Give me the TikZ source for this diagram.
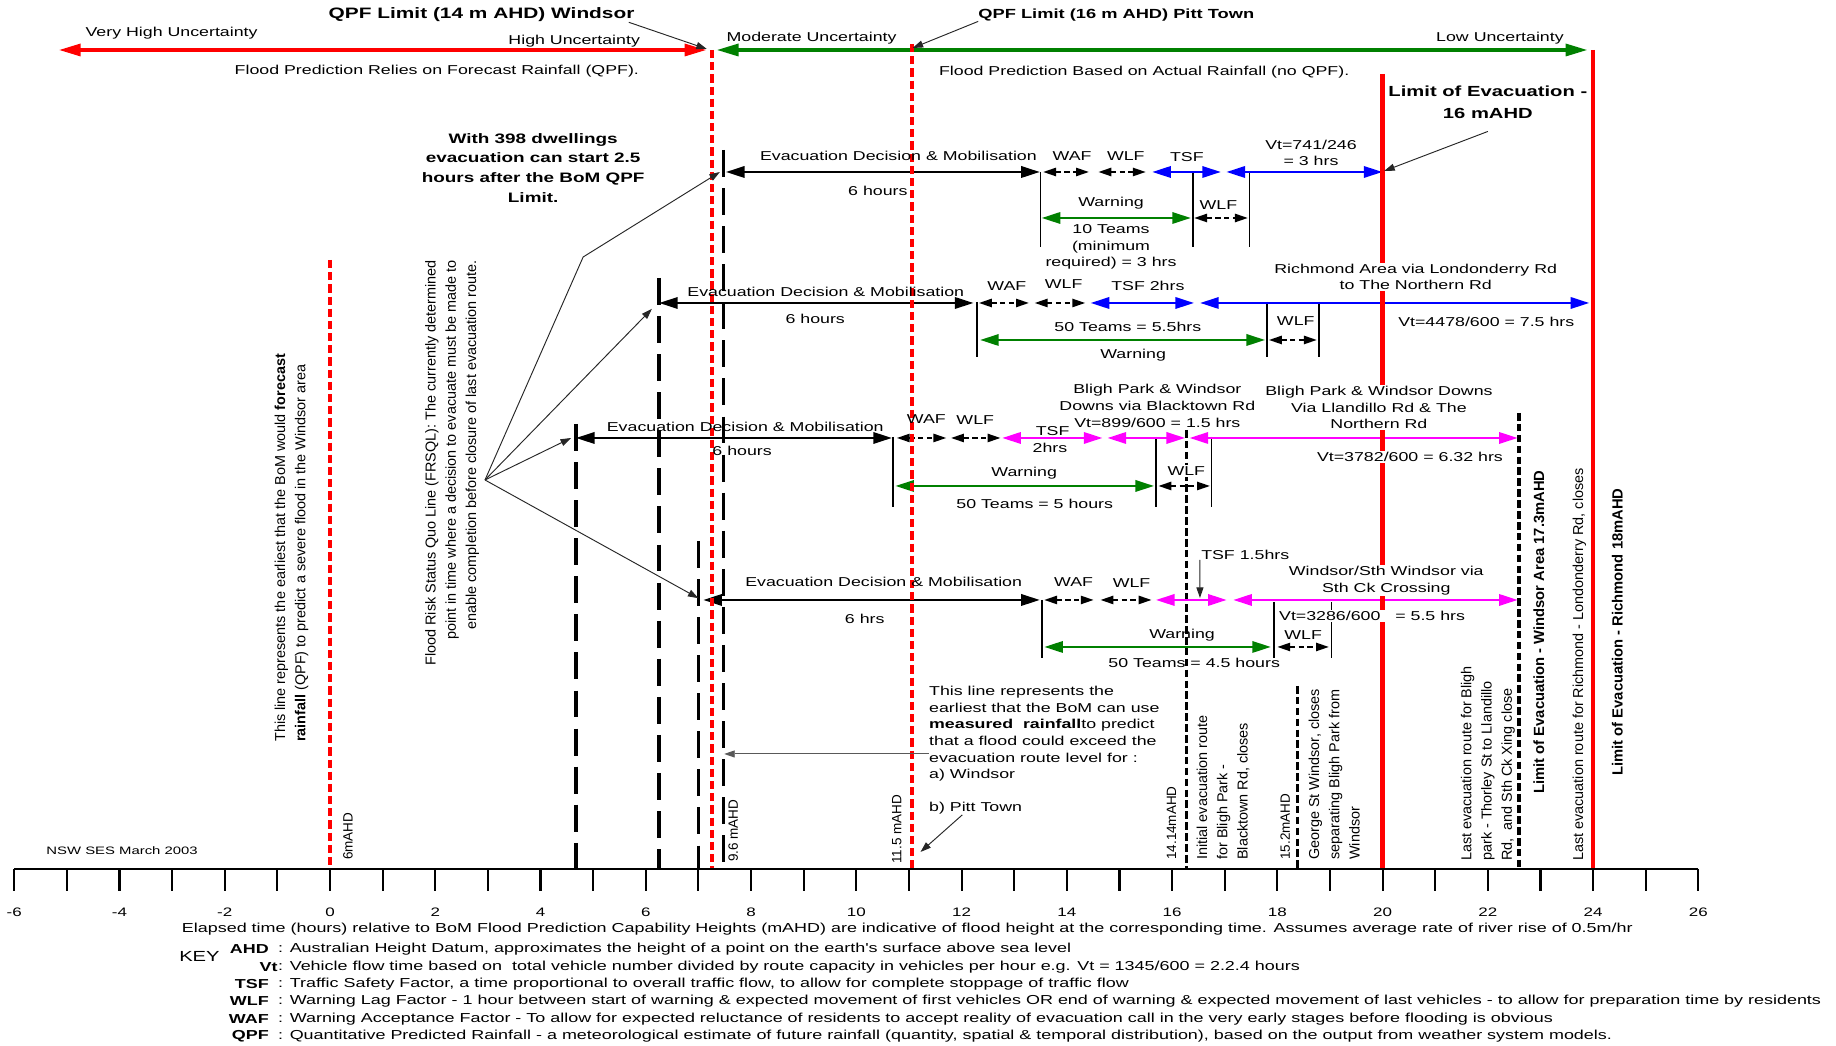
\documentclass[tikz,border=0pt]{standalone}
\usepackage{fontspec}
\setmainfont{Liberation Sans}
\newfontfamily\widefont{Liberation Sans}[FakeStretch=1.38]
\usetikzlibrary{arrows.meta}

\definecolor{floodred}{RGB}{255,0,0}
\definecolor{warngreen}{RGB}{0,128,0}
\definecolor{routeblue}{RGB}{0,0,255}
\definecolor{routepink}{RGB}{255,0,255}

\tikzset{
  lbl/.style={font=\widefont\fontsize{11}{14.2}\selectfont, inner sep=0pt, align=center},
  boldlbl/.style={font=\widefont\fontsize{11.7}{17}\selectfont\bfseries, inner sep=0pt, align=center},
  keytxt/.style={font=\widefont\fontsize{11.1}{13}\selectfont, inner sep=0pt, anchor=west},
  keyab/.style={font=\widefont\fontsize{11.1}{13}\selectfont\bfseries, inner sep=0pt, anchor=east},
  vlbl/.style={font=\fontsize{12.3}{17.3}\selectfont, inner sep=0pt, rotate=90, anchor=west, align=left},
  vsmall/.style={font=\fontsize{11.5}{14}\selectfont, inner sep=0pt, rotate=90, anchor=west},
  vbold/.style={font=\fontsize{12.6}{15}\selectfont\bfseries, inner sep=0pt, rotate=90},
  cover/.style={fill=white, inner sep=1pt},
  bigarrow/.style={line width=3.4pt, {Triangle[length=19pt,width=10pt]}-{Triangle[length=19pt,width=10pt]}},
  span/.style={line width=2.4pt, {Triangle[length=16pt,width=9.5pt]}-{Triangle[length=16pt,width=9.5pt]}},
  lag/.style={line width=1.6pt, dash pattern=on 4.5pt off 3pt, {Triangle[length=11pt,width=7pt]}-{Triangle[length=11pt,width=7pt]}},
  stopper/.style={line width=1.6pt},
  qpfline/.style={floodred, line width=3.4pt, dash pattern=on 7pt off 3.4pt},
  statusline/.style={line width=3pt, dash pattern=on 23pt off 9.5pt},
  closeline/.style={line width=2.8pt, dash pattern=on 6.5pt off 2.8pt},
  limitline/.style={floodred, line width=3.6pt},
  pointer/.style={black!85, line width=0.8pt, -{Triangle[length=9pt,width=6pt]}},
}

\begin{document}
\begin{tikzpicture}[x=1.5789cm, y=-0.03cm]
\useasboundingbox[fill=white] (-6.2703,0) rectangle (28.615,1046);

% decision and closure lines
\draw[statusline] (4.67,424) -- (4.67,869);
\draw[statusline] (6.25,278) -- (6.25,869);
\draw[statusline] (7.0,541) -- (7.0,869);
\draw[statusline] (7.48,150) -- (7.48,869);
\draw[closeline] (16.28,430) -- (16.28,869);
\draw[closeline] (18.38,686) -- (18.38,869);
\draw[closeline] (22.59,413) -- (22.59,869);

% row 1
\coordinate (ev1) at (7.52,172);
\draw[span] (ev1) -- (13.49,172);
\foreach \hr in {13.5,16.4,17.47} \draw[stopper] (\hr,172) -- (\hr,247);
\draw[lag] (13.55,172) -- (14.42,172);
\draw[lag] (14.6,172) -- (15.5,172);
\draw[span, routeblue] (15.62,172) -- (16.93,172);
\draw[span, routeblue] (17.03,172) -- (20,172);
\draw[span, warngreen] (13.52,218) -- (16.36,218);
\draw[lag] (16.42,218) -- (17.44,218);

% row 2
\coordinate (ev2) at (6.25,303);
\draw[span] (ev2) -- (12.23,303);
\foreach \hr in {12.29,17.8,18.79} \draw[stopper] (\hr,302) -- (\hr,357);
\draw[lag] (12.33,303) -- (13.28,303);
\draw[lag] (13.39,303) -- (14.35,303);
\draw[span, routeblue] (14.45,303) -- (16.42,303);
\draw[span, routeblue] (16.53,303) -- (23.93,303);
\draw[span, warngreen] (12.35,340) -- (17.77,340);
\draw[lag] (17.84,340) -- (18.75,340);

% row 3
\coordinate (ev3) at (4.67,438);
\draw[span] (ev3) -- (10.68,438);
\foreach \hr in {10.7,15.7,16.75} \draw[stopper] (\hr,437) -- (\hr,507);
\draw[lag] (10.77,438) -- (11.71,438);
\draw[lag] (11.8,438) -- (12.74,438);
\draw[span, routepink] (12.77,438) -- (14.68,438);
\draw[span, routepink] (14.77,438) -- (16.25,438);
\draw[span, routepink] (16.33,438) -- (22.57,438);
\draw[span, warngreen] (10.74,486) -- (15.66,486);
\draw[lag] (15.74,486) -- (16.72,486);

% row 4
\coordinate (ev4) at (7.09,600);
\draw[span] (ev4) -- (13.49,600);
\draw[stopper] (13.53,600) -- (13.53,658);
\foreach \hr in {17.93,19.03} \draw[stopper] (\hr,602) -- (\hr,658);
\draw[lag] (13.57,600) -- (14.51,600);
\draw[lag] (14.64,600) -- (15.61,600);
\draw[span, routepink] (15.69,600) -- (17.04,600);
\draw[span, routepink] (17.16,600) -- (22.57,600);
\draw[span, warngreen] (13.57,647) -- (17.88,647);
\draw[lag] (18.0,647) -- (18.98,647);

% uncertainty
\draw[bigarrow, floodred] (-5.16,50) -- (7.16,50);
\draw[bigarrow, warngreen] (7.34,50) -- (23.9,50);

% flood heights
\draw[qpfline] (0,260) -- (0,869);
\draw[qpfline] (7.25,50) -- (7.25,869);
\draw[qpfline] (11.05,44) -- (11.05,869);
\draw[limitline] (20,74) -- (20,869);
\draw[limitline] (24,50) -- (24,869);

% axis
\draw[line width=2.3pt] (-6,869) -- (26,869);
\foreach \hr in {-6,...,26} \draw[line width=1.8pt] (\hr,869) -- (\hr,891);
\foreach \hr [count=\i] in {-6,-4,...,26} \node[lbl, font=\widefont\fontsize{10.5}{12}\selectfont] (num\i) at (\hr,912) {\hr};
\node[keytxt, anchor=center] (caption) at (10.97,929) {Elapsed time (hours) relative to BoM Flood Prediction Capability Heights (mAHD) are indicative of flood height at the corresponding time. Assumes average rate of river rise of 0.5m/hr};

% top labels
\node[lbl] (vhu) at (-3.01,33) {Very High Uncertainty};
\node[lbl] (hu) at (4.64,41) {High Uncertainty};
\node[lbl] (mu) at (9.15,38) {Moderate Uncertainty};
\node[lbl] (lu) at (22.23,38) {Low Uncertainty};
\node[lbl] (fpr) at (2.03,71) {Flood Prediction Relies on Forecast Rainfall (QPF).};
\node[lbl] (fpb) at (15.47,72) {Flood Prediction Based on Actual Rainfall (no QPF).};
\node[boldlbl, font=\widefont\fontsize{12.9}{15}\selectfont\bfseries] (qpf14) at (2.88,15) {QPF Limit (14 m AHD) Windsor};
\node[boldlbl, font=\widefont\fontsize{11.3}{15}\selectfont\bfseries] (qpf16) at (14.94,15) {QPF Limit (16 m AHD) Pitt Town};
\coordinate (qpfw) at (7.16,49);
\coordinate (qpfp) at (11.07,48);
\draw[pointer] ([xshift=-5pt]qpf14.south east) -- (qpfw);
\draw[pointer] (qpf16.south west) -- (qpfp);
\node[boldlbl, font=\widefont\fontsize{12.5}{18.7}\selectfont\bfseries] (lim16) at (22.0,102) {Limit of Evacuation -\\16 mAHD};
\coordinate (vt1end) at (20.03,171);
\draw[pointer] ([yshift=-11pt]lim16.south) -- (vt1end);
\node[boldlbl] (dwell) at (3.86,168) {With 398 dwellings\\evacuation can start 2.5\\hours after the BoM QPF\\Limit.};

% row labels
\node[lbl] (ed1) at (10.8,156) {Evacuation Decision \& Mobilisation};
\node[lbl] (hr1) at (10.41,191) {6 hours};
\node[lbl] (waf1) at (14.1,156) {WAF};
\node[lbl] (wlf1) at (15.12,156) {WLF};
\node[lbl] (tsf1) at (16.28,157) {TSF};
\node[lbl] (vt1) at (18.64,153) {Vt=741/246\\= 3 hrs};
\node[lbl] (warn1) at (14.84,203) {Warning};
\node[lbl] (wlf1b) at (16.88,205) {WLF};
\node[lbl] (team1) at (14.84,247) {10 Teams\\(minimum\\required) = 3 hrs};

\node[lbl] (ed2) at (9.42,292) {Evacuation Decision \& Mobilisation};
\node[lbl] (hr2) at (9.22,319) {6 hours};
\node[lbl] (waf2) at (12.86,286) {WAF};
\node[lbl] (wlf2) at (13.94,284) {WLF};
\node[lbl] (tsf2) at (15.54,286) {TSF 2hrs};
\node[lbl, cover] (rich) at (20.63,277) {Richmond Area via Londonderry Rd\\to The Northern Rd};
\node[lbl] (vt2) at (21.97,322) {Vt=4478/600 = 7.5 hrs};
\node[lbl] (team2) at (15.16,327) {50 Teams = 5.5hrs};
\node[lbl] (warn2) at (15.26,355) {Warning};
\node[lbl] (wlf2b) at (18.35,321) {WLF};

\node[lbl] (ed3) at (7.89,427) {Evacuation Decision \& Mobilisation};
\node[lbl] (hr3) at (7.83,451) {6 hours};
\node[lbl] (waf3) at (11.33,419) {WAF};
\node[lbl] (wlf3) at (12.26,420) {WLF};
\node[lbl] (tsf3) at (13.73,431) {TSF};
\node[lbl] (tsf3h) at (13.68,448) {2hrs};
\node[lbl] (bligh1) at (15.72,406) {Bligh Park \& Windsor\\Downs via Blacktown Rd\\Vt=899/600 = 1.5 hrs};
\node[lbl, cover] (bligh2) at (19.93,407.5) {Bligh Park \& Windsor Downs\\Via Llandillo Rd \& The\\Northern Rd};
\node[lbl, cover] (vt3) at (20.52,457) {Vt=3782/600 = 6.32 hrs};
\node[lbl] (warn3) at (13.19,473) {Warning};
\node[lbl] (team3) at (13.39,504) {50 Teams = 5 hours};
\node[lbl, cover] (wlf3b) at (16.27,471) {WLF};

\node[lbl] (ed4) at (10.52,582) {Evacuation Decision \& Mobilisation};
\node[lbl] (hr4) at (10.16,619) {6 hrs};
\node[lbl] (waf4) at (14.13,582) {WAF};
\node[lbl] (wlf4) at (15.23,583) {WLF};
\node[lbl, anchor=west] (tsf4) at (16.55,555) {TSF 1.5hrs};
\coordinate (tsf4end) at (16.53,598);
\draw[pointer] (tsf4.south west) ++(-1pt,0) -- (tsf4end);
\node[lbl, cover] (sthw) at (20.07,581) {Windsor/Sth Windsor via\\Sth Ck Crossing};
\node[lbl, cover] (vt4) at (19.8,616) {Vt=3286/600\ \ \ = 5.5 hrs};
\node[lbl] (warn4) at (16.19,635) {Warning};
\node[lbl] (team4) at (16.42,663) {50 Teams = 4.5 hours};
\node[lbl] (wlf4b) at (18.49,635) {WLF};

% status quo pointers
\node[vlbl, anchor=east, align=right] (frsql) at (2.32,260) {Flood Risk Status Quo Line (FRSQL): The currently determined\\point in time where a decision to evacuate must be made to\\enable completion before closure of last evacuation route.};
\coordinate (apex) at (2.945,480);
\coordinate (bend) at (4.81,257);
\draw[pointer] (apex) -- (bend) -- ([xshift=-5pt]ev1);
\draw[pointer] (apex) -- ([xshift=-6pt,yshift=-5pt]ev2);
\draw[pointer] (apex) -- ([xshift=-4pt]ev3);
\draw[pointer] (apex) -- ([xshift=-4pt,yshift=1.5pt]ev4);

% vertical notes
\node[vlbl] (qpfnote) at (-0.73,742) {This line represents the earliest that the BoM would \textbf{forecast}\\\textbf{rainfall} (QPF) to predict a severe flood in the Windsor area};
\node[vsmall] (h6) at (0.342,860) {6mAHD};
\node[vsmall] (h96) at (7.66,862) {9.6 mAHD};
\node[vsmall] (h115) at (10.77,864) {11.5 mAHD};
\node[vsmall] (h1414) at (15.99,860) {14.14mAHD};
\node[vsmall] (h152) at (18.15,860) {15.2mAHD};
\node[vlbl] (initial) at (16.97,860) {Initial evacuation route\\for Bligh Park -\\Blacktown Rd, closes};
\node[vlbl] (george) at (19.08,860) {George St Windsor, closes\\separating Bligh Park from\\Windsor};
\node[vlbl] (lastbligh) at (22.0,861) {Last evacuation route for Bligh\\park - Thorley St to Llandillo\\Rd,\ \ and Sth Ck Xing close};
\node[vlbl] (lastrich) at (23.74,861) {Last evacuation route for Richmond - Londonderry Rd, closes};
\node[vbold] (limwin) at (22.97,632) {Limit of Evacuation - Windsor Area 17.3mAHD};
\node[vbold] (limrich) at (24.46,632) {Limit of Evacuation - Richmond 18mAHD};

% measured rainfall note
\node[lbl, anchor=north west, align=left] (measured) at (11.38,686) {This line represents the\\earliest that the BoM can use\\\textbf{measured\ \ rainfall}to predict\\that a flood could exceed the\\evacuation route level for :\\a) Windsor\\[14.2pt]b) Pitt Town};
\coordinate (rain) at (7.49,754);
\coordinate (pitt) at (11.22,852);
\draw[pointer, black!65] (measured.west |- rain) -- (rain);
\draw[pointer] ([xshift=1cm]measured.south west) -- (pitt);
\node[lbl, font=\widefont\fontsize{9.2}{10}\selectfont] (ses) at (-3.95,851) {NSW SES March 2003};

% key
\node[lbl, font=\widefont\fontsize{12.5}{14}\selectfont] (key) at (-2.48,957) {KEY};
\node[keyab] (kahd) at (-1.16,949) {AHD};
\node[keytxt] (kahdt) at (-0.99,949) {: Australian Height Datum, approximates the height of a point on the earth's surface above sea level};
\node[keyab, anchor=east] (kvt) at (-0.99,967) {Vt};
\node[keytxt] (kvtt) at (kvt.east) {: Vehicle flow time based on\ \ total vehicle number divided by route capacity in vehicles per hour e.g. Vt = 1345/600 = 2.2.4 hours};
\node[keyab] (ktsf) at (-1.16,984) {TSF};
\node[keytxt] (ktsft) at (-0.99,984) {: Traffic Safety Factor, a time proportional to overall traffic flow, to allow for complete stoppage of traffic flow};
\node[keyab] (kwlf) at (-1.16,1001) {WLF};
\node[keytxt] (kwlft) at (-0.99,1001) {: Warning Lag Factor - 1 hour between start of warning \& expected movement of first vehicles OR end of warning \& expected movement of last vehicles - to allow for preparation time by residents};
\node[keyab] (kwaf) at (-1.16,1019) {WAF};
\node[keytxt] (kwaft) at (-0.99,1019) {: Warning Acceptance Factor - To allow for expected reluctance of residents to accept reality of evacuation call in the very early stages before flooding is obvious};
\node[keyab] (kqpf) at (-1.16,1036) {QPF};
\node[keytxt] (kqpft) at (-0.99,1036) {: Quantitative Predicted Rainfall - a meteorological estimate of future rainfall (quantity, spatial \& temporal distribution), based on the output from weather system models.};
\end{tikzpicture}
\end{document}
